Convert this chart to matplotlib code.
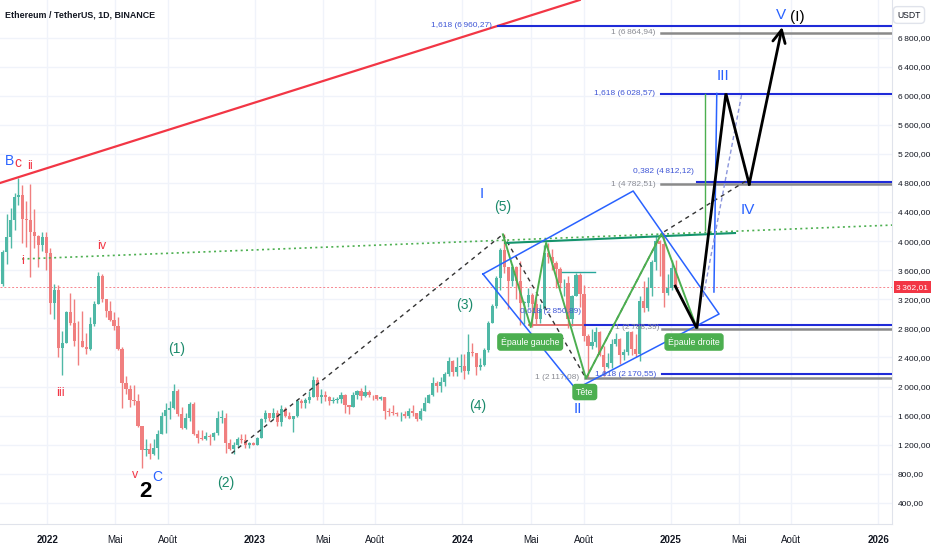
import matplotlib
matplotlib.use('Agg')
import matplotlib.pyplot as plt
import matplotlib.dates as mdates
import numpy as np
import pandas as pd

# ---------------- data (weekly OHLC) ----------------
first_week = '2021-10-11'
open0 = 3415
high = [3880, 4375, 4460, 4665, 4868, 4770, 4550, 4780, 4440, 4090, 4130, 4125,
        3900, 3410, 3390, 2760, 3040, 3280, 3200, 2900, 3040, 2730, 2950, 3180, 3580,
        3550, 3210, 3170, 3030, 2960, 2540, 2150, 2020, 2020, 1900, 1460, 1280, 1220,
        1280, 1400, 1650, 1780, 1800, 2030, 1960, 1720, 1640, 1790, 1790, 1400, 1400,
        1380, 1340, 1370, 1660, 1680, 1640, 1280, 1240, 1300, 1350, 1350, 1230, 1230,
        1300, 1570, 1680, 1640, 1700, 1680, 1740, 1720, 1650, 1600, 1830, 1830, 1840,
        1940, 2140, 2130, 1960, 1940, 1870, 1850, 1860, 1930, 1900, 1750, 1930, 1950,
        1980, 2020, 1950, 1890, 1880, 1870, 1850, 1700, 1740, 1650, 1650, 1660, 1700,
        1750, 1640, 1700, 1860, 1900, 2130, 2080, 2130, 2200, 2400, 2360, 2400, 2450,
        2445, 2717, 2600, 2460, 2395, 2535, 2895, 3130, 3520, 3900, 4093, 3650, 3680,
        3660, 3730, 3180, 3350, 3290, 3220, 3130, 3950, 3975, 3890, 3720, 3650, 3480,
        3520, 3260, 3560, 3560, 3400, 2720, 2790, 2820, 2760, 2560, 2460, 2650, 2730,
        2670, 2520, 2770, 2760, 2720, 3250, 3450, 3500, 3740, 4090, 4010, 4107, 3550,
        3740, 3745]
low = [3380, 3680, 3900, 4150, 4500, 3970, 3920, 3500, 3900, 3640, 3870, 3600,
       3000, 2930, 2400, 2160, 2600, 2850, 2560, 2300, 2540, 2450, 2500, 2830, 3130,
       3160, 2950, 2900, 2780, 2500, 1700, 1900, 1720, 1740, 1440, 880, 1040, 1000,
       1060, 1000, 1340, 1360, 1550, 1690, 1600, 1420, 1420, 1520, 1330, 1220, 1270,
       1270, 1190, 1270, 1330, 1500, 1080, 1130, 1073, 1170, 1220, 1150, 1160, 1190,
       1190, 1290, 1510, 1530, 1550, 1450, 1460, 1580, 1550, 1370, 1580, 1700, 1700,
       1780, 1850, 1820, 1780, 1800, 1740, 1780, 1780, 1780, 1640, 1620, 1720, 1830,
       1820, 1850, 1860, 1820, 1810, 1820, 1550, 1600, 1610, 1600, 1530, 1570, 1570,
       1590, 1520, 1540, 1670, 1770, 1870, 1930, 1930, 2010, 2150, 2150, 2140, 2200,
       2100, 2170, 2420, 2165, 2230, 2280, 2480, 2870, 3080, 3330, 3560, 3060, 3380,
       3200, 2850, 2860, 3100, 2817, 2860, 2870, 3060, 3700, 3600, 3360, 3360, 3240,
       2810, 2830, 3240, 3090, 2630, 2111, 2520, 2540, 2420, 2150, 2250, 2250, 2560,
       2310, 2360, 2440, 2440, 2400, 2350, 3030, 3040, 3250, 3600, 3520, 3100, 3260,
       3330, 3310]
close = [3850, 4050, 4290, 4610, 4640, 4300, 4290, 4120, 4070, 3940, 4050, 3830,
         3150, 3330, 2530, 2600, 3030, 2880, 2630, 2620, 2550, 2520, 2860, 3140, 3520,
         3200, 3040, 2920, 2830, 2520, 2050, 1970, 1810, 1800, 1450, 1130, 1140, 1070,
         1160, 1350, 1600, 1680, 1700, 1935, 1620, 1430, 1570, 1760, 1340, 1290, 1280,
         1320, 1310, 1360, 1570, 1570, 1220, 1140, 1195, 1280, 1265, 1190, 1220, 1200,
         1290, 1550, 1630, 1570, 1630, 1510, 1690, 1600, 1560, 1590, 1800, 1770, 1810,
         1860, 2090, 1860, 1880, 1850, 1800, 1810, 1830, 1890, 1750, 1720, 1880, 1940,
         1870, 1930, 1890, 1880, 1830, 1850, 1670, 1650, 1630, 1620, 1620, 1590, 1670,
         1640, 1550, 1670, 1780, 1890, 2050, 2010, 2060, 2170, 2350, 2200, 2270, 2280,
         2220, 2475, 2455, 2267, 2290, 2500, 2880, 3110, 3490, 3880, 3640, 3450, 3650,
         3450, 3150, 3150, 3260, 3130, 2930, 3070, 3830, 3780, 3700, 3620, 3420, 3430,
         2930, 3250, 3530, 3270, 2690, 2555, 2610, 2750, 2430, 2270, 2320, 2580, 2650,
         2440, 2470, 2750, 2510, 2450, 3180, 3080, 3360, 3710, 4000, 3960, 3280, 3360,
         3630, 3362.01]
last_price = 3362.01

# axis ticks
ytick_values = [400, 800, 1200, 1600, 2000, 2400, 2800, 3200, 3600, 4000,
                4400, 4800, 5200, 5600, 6000, 6400, 6800]
xtick_dates = ['2022-01-01', '2022-05-01', '2022-08-01', '2023-01-01', '2023-05-01',
               '2023-08-01', '2024-01-01', '2024-05-01', '2024-08-01', '2025-01-01',
               '2025-05-01', '2025-08-01', '2026-01-01']
xtick_labels = ['2022', 'Mai', 'Août', '2023', 'Mai', 'Août', '2024', 'Mai', 'Août',
                '2025', 'Mai', 'Août', '2026']
xtick_bold = [True, False, False, True, False, False, True, False, False, True,
              False, False, True]

# fibonacci levels: (label, price, start date, kind)
fib_levels = [
    ('1,618 (6\u202f960,27)', 6960.27, '2024-03-03', 'blue'),
    ('1 (6\u202f864,94)', 6864.94, '2024-12-15', 'gray'),
    ('1,618 (6\u202f028,57)', 6028.57, '2024-12-15', 'blue'),
    ('1 (4\u202f782,51)', 4782.51, '2024-12-15', 'gray'),
    ('1,618 (2\u202f170,55)', 2170.55, '2024-12-16', 'blue'),
    ('1 (2\u202f117,08)', 2117.08, '2024-08-03', 'gray'),
]
fib_extra = [  # lines whose label is placed apart
    ('0,382 (4\u202f812,12)', 4812.12, '2025-02-16', 'blue', '2024-12-19', 4964),
    ('0,618 (2\u202f850,89)', 2850.89, '2024-08-03', 'blue', '2024-06-04', 3025),
    ('1 (2\u202f788,39)', 2788.39, '2024-12-16', 'gray', '2024-11-03', 2818),
]

# elliott wave labels: (text, date, price, color, size, weight)
wave_labels = [
    ('B', '2021-10-26', 5102, '#2962ff', 10, 'normal'),
    ('c', '2021-11-11', 5074, '#f23645', 10, 'normal'),
    ('ii', '2021-12-02', 5033, '#f23645', 9, 'normal'),
    ('i', '2021-11-18', 3726, '#f23645', 9, 'normal'),
    ('iv', '2022-04-07', 3932, '#f23645', 9, 'normal'),
    ('iii', '2022-01-25', 1911, '#f23645', 9, 'normal'),
    ('v', '2022-06-04', 783, '#f23645', 9, 'normal'),
    ('2', '2022-06-22', 560, '#000000', 16, 'bold'),
    ('C', '2022-07-14', 760, '#2962ff', 10, 'normal'),
    ('(1)', '2022-08-17', 2516, '#1b8a6b', 10, 'normal'),
    ('(2)', '2022-11-11', 673, '#1b8a6b', 10, 'normal'),
    ('(3)', '2024-01-05', 3121, '#1b8a6b', 10, 'normal'),
    ('(4)', '2024-01-28', 1732, '#1b8a6b', 10, 'normal'),
    ('(5)', '2024-03-11', 4469, '#1b8a6b', 10, 'normal'),
    ('I', '2024-02-04', 4648, '#2962ff', 11, 'normal'),
    ('II', '2024-07-21', 1691, '#2962ff', 11, 'normal'),
    ('III', '2025-04-03', 6271, '#2962ff', 11, 'normal'),
    ('IV', '2025-05-17', 4428, '#2962ff', 11, 'normal'),
    ('V', '2025-07-14', 7110, '#2962ff', 11, 'normal'),
    ('(I)', '2025-08-11', 7082, '#000000', 11, 'normal'),
]
pattern_boxes = [
    ('Épaule gauche', '2024-04-29', 2612),
    ('Tête', '2024-08-03', 1924),
    ('Épaule droite', '2025-02-11', 2612),
]

# drawings (date, price)
red_trend = [('2021-10-10', 4799), ('2024-07-25', 7316)]
green_dotted = [('2021-11-18', 3754), ('2026-01-25', 4220)]
dashed_a = [('2022-11-21', 1080), ('2024-03-12', 4093)]
dashed_b = [('2024-03-12', 4093), ('2024-08-05', 2111)]
dashed_c = [('2024-08-05', 2111), ('2024-12-16', 4107), ('2025-05-18', 4850)]
neckline = [('2024-03-16', 3974), ('2025-04-24', 4111)]
hs_zigzag = [('2024-03-12', 4093), ('2024-04-30', 2817), ('2024-05-27', 3975),
             ('2024-08-05', 2111), ('2024-12-16', 4107), ('2025-02-16', 2800)]
channel = [('2024-02-06', 3547), ('2024-10-27', 4689), ('2025-03-27', 2997),
           ('2024-07-18', 1966)]
green_vert = [('2025-03-02', 6030), ('2025-03-02', 4150)]
blue_vert = [('2025-03-23', 6030), ('2025-03-18', 3300)]
lav_dashed = [('2025-02-27', 3231), ('2025-05-06', 6030)]
projection = [('2025-01-09', 3380), ('2025-02-16', 2800), ('2025-04-08', 6030),
              ('2025-05-19', 4782)]
projection_tip = ('2025-07-16', 6945)
teal_short = [('2024-06-24', 3575), ('2024-08-21', 3575)]
salmon_line = [('2024-04-27', 2840), ('2025-01-10', 2840)]

# ---------------- figure ----------------
FONT = ['Liberation Sans Narrow', 'Liberation Sans', 'DejaVu Sans']
plt.rcParams['font.family'] = FONT

fig = plt.figure(figsize=(9.32, 5.5), dpi=100)
ax = fig.add_axes([0, 26 / 550, 892 / 932, 524 / 550])
ax.set_facecolor('white')


def D(s):
    return mdates.date2num(pd.Timestamp(s))


def pts(lst):
    return [D(d) for d, _ in lst], [p for _, p in lst]


ax.set_xlim(D('2021-10-10'), D('2026-01-25'))
ax.set_ylim(109, 7316)

# grid
for d in xtick_dates:
    ax.axvline(D(d), color='#f0f3fa', lw=1, zorder=0)
for v in ytick_values:
    ax.axhline(v, color='#f0f3fa', lw=1, zorder=0)

# candles
dates = pd.date_range(first_week, periods=len(close), freq='7D')
opens = [open0] + close[:-1]
centers = np.array([D(d) for d in dates]) + 3.5
up_c, dn_c = '#4fb8a6', '#f07f7f'
cols = [up_c if c >= o else dn_c for o, c in zip(opens, close)]
ax.vlines(centers, low, high, colors=cols, lw=1.0, zorder=2)
bottoms = [min(o, c) for o, c in zip(opens, close)]
heights = [max(abs(c - o), 8) for o, c in zip(opens, close)]
ax.bar(centers, heights, bottom=bottoms, width=5.6, color=cols, lw=0, zorder=3)

# last price line
ax.axhline(last_price, color='#f23645', lw=0.7, ls=(0, (2, 2)), alpha=0.6, zorder=1)

# drawings
x, y = pts(red_trend)
ax.plot(x, y, color='#f23645', lw=1.6, zorder=4)
x, y = pts(green_dotted)
ax.plot(x, y, color='#4caf50', lw=1.2, ls=(0, (1.2, 2)), zorder=4)
for seg in (dashed_a, dashed_b, dashed_c):
    x, y = pts(seg)
    ax.plot(x, y, color='#333333', lw=1.0, ls=(0, (3, 3)), zorder=5)
x, y = pts(neckline)
ax.plot(x, y, color='#14946c', lw=1.5, zorder=5)
x, y = pts(hs_zigzag)
ax.plot(x, y, color='#4caf50', lw=1.4, zorder=5)
x, y = pts(channel)
ax.plot(x + x[:1], y + y[:1], color='#2962ff', lw=1.1, zorder=5)
x, y = pts(green_vert)
ax.plot(x, y, color='#4caf50', lw=1.0, zorder=5)
x, y = pts(blue_vert)
ax.plot(x, y, color='#2962ff', lw=1.1, zorder=5)
x, y = pts(lav_dashed)
ax.plot(x, y, color='#8c96dc', lw=1.0, ls=(0, (3, 2)), zorder=5)
x, y = pts(teal_short)
ax.plot(x, y, color='#26a69a', lw=1.0, zorder=5)
x, y = pts(salmon_line)
ax.plot(x, y, color='#e57373', lw=1.4, zorder=4)

xend = D('2026-01-25')
line_col = {'blue': '#1f2bd8', 'gray': '#8a8a8a'}
text_col = {'blue': '#3f56d6', 'gray': '#8a8c94'}
for lab, price, start, kind in fib_levels:
    ax.plot([D(start), xend], [price, price], color=line_col[kind],
            lw=1.8 if kind == 'gray' else 1.5, zorder=4)
    ax.annotate(lab, xy=(D(start), price), xytext=(-4, 0), textcoords='offset points',
                ha='right', va='center', fontsize=6, color=text_col[kind], zorder=6)
for lab, price, start, kind, tdate, tprice in fib_extra:
    ax.plot([D(start), xend], [price, price], color=line_col[kind],
            lw=1.8 if kind == 'gray' else 1.5, zorder=4)
    ax.text(D(tdate), tprice, lab, ha='center', va='center', fontsize=6,
            color=text_col[kind], zorder=6)

# projection path
x, y = pts(projection)
ax.plot(x, y, color='#000000', lw=2.0, zorder=6, solid_joinstyle='miter')
ax.annotate('', xy=(D(projection_tip[0]), projection_tip[1]),
            xytext=(x[-1], y[-1]),
            arrowprops=dict(arrowstyle='->,head_length=0.9,head_width=0.45',
                            color='#000000', lw=2.0, shrinkA=0, shrinkB=0),
            zorder=6)

# wave labels
for t, d, p, c, s, w in wave_labels:
    ax.text(D(d), p, t, color=c, fontsize=s, fontweight=w, ha='center', va='center',
            zorder=7)

for t, d, p in pattern_boxes:
    ax.text(D(d), p, t, color='white', fontsize=6.3, ha='center', va='center',
            zorder=8, bbox=dict(boxstyle='round,pad=0.35,rounding_size=0.3',
                                fc='#4caf50', ec='#4caf50'))

# axes styling
for s in ('top', 'left'):
    ax.spines[s].set_visible(False)
ax.spines['right'].set_color('#e0e3eb')
ax.spines['bottom'].set_color('#e0e3eb')
ax.yaxis.tick_right()
ax.set_yticks(ytick_values)
ax.set_yticklabels([f'{v:,.2f}'.replace(',', '\u202f').replace('.', ',')
                    for v in ytick_values])
ax.tick_params(axis='y', length=0, pad=4, labelsize=6.0, labelcolor='#131722')
ax.set_xticks([D(d) for d in xtick_dates])
ax.set_xticklabels(xtick_labels)
ax.tick_params(axis='x', length=0, pad=8, labelsize=7, labelcolor='#131722')
for lbl, b in zip(ax.get_xticklabels(), xtick_bold):
    lbl.set_fontweight('bold' if b else 'normal')

# price tag
ax.annotate(f'{last_price:,.2f}'.replace(',', '\u202f').replace('.', ','),
            xy=(1, last_price), xycoords=('axes fraction', 'data'),
            xytext=(3, 0), textcoords='offset points', ha='left', va='center',
            fontsize=6.0, color='white', annotation_clip=False,
            bbox=dict(boxstyle='square,pad=0.3', fc='#f23645', ec='none'))

# title and currency box
fig.text(5 / 932, 1 - 15 / 550, 'Ethereum / TetherUS, 1D, BINANCE', fontsize=6.4,
         fontweight='bold', color='#131722', ha='left', va='center')
fig.text(909 / 932, 1 - 15 / 550, 'USDT', fontsize=6.2, color='#131722',
         ha='center', va='center',
         bbox=dict(boxstyle='round,pad=0.45', fc='white', ec='#e0e3eb'))

fig.savefig('out.png', dpi=100)
